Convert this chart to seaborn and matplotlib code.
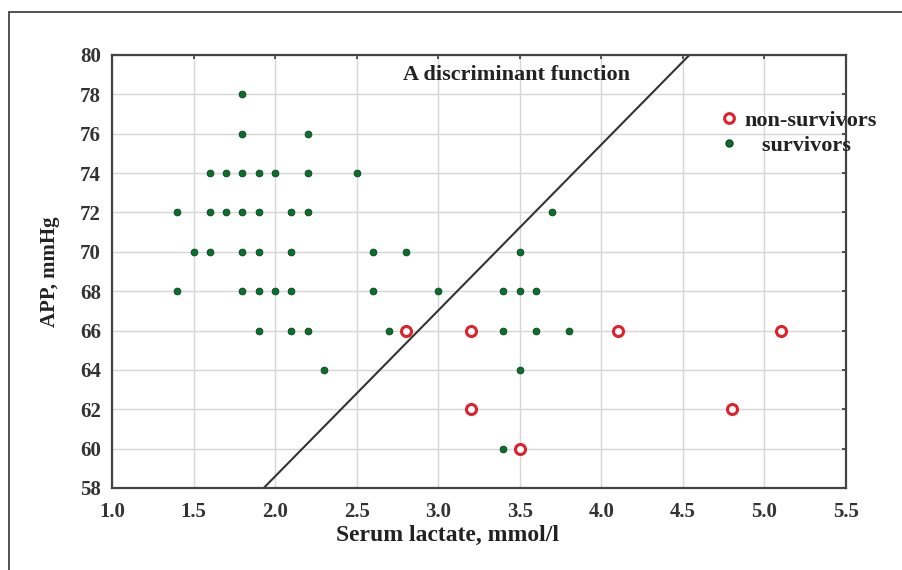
import matplotlib
matplotlib.use("Agg")
import matplotlib.pyplot as plt
import seaborn as sns
import pandas as pd
from matplotlib.patches import Rectangle
from matplotlib.lines import Line2D

# --- data ---
surv_lactate = [1.8,
                1.8, 2.2,
                1.6, 1.7, 1.8, 1.9, 2.0, 2.2, 2.5,
                1.4, 1.6, 1.7, 1.8, 1.9, 2.1, 2.2, 3.7,
                1.5, 1.6, 1.8, 1.9, 2.1, 2.6, 2.8, 3.5,
                1.4, 1.8, 1.9, 2.0, 2.1, 2.6, 3.0, 3.4, 3.5, 3.6,
                1.9, 2.1, 2.2, 2.7, 3.4, 3.6, 3.8,
                2.3, 3.5,
                3.4]
surv_app = [78,
            76, 76,
            74, 74, 74, 74, 74, 74, 74,
            72, 72, 72, 72, 72, 72, 72, 72,
            70, 70, 70, 70, 70, 70, 70, 70,
            68, 68, 68, 68, 68, 68, 68, 68, 68, 68,
            66, 66, 66, 66, 66, 66, 66,
            64, 64,
            60]
nonsurv_lactate = [2.8, 3.2, 4.1, 5.1, 3.2, 4.8, 3.5]
nonsurv_app = [66, 66, 66, 66, 62, 62, 60]
line_x = [1.93, 4.54]
line_y = [58, 80]
x_ticks = [1.0, 1.5, 2.0, 2.5, 3.0, 3.5, 4.0, 4.5, 5.0, 5.5]
y_ticks = list(range(58, 81, 2))

df = pd.DataFrame({
    "lactate": nonsurv_lactate + surv_lactate,
    "app": nonsurv_app + surv_app,
    "group": ["non-survivors"] * len(nonsurv_lactate) + ["survivors"] * len(surv_lactate),
})

sns.set_style("white")
plt.rcParams["font.family"] = ["Liberation Serif", "DejaVu Serif"]

fig = plt.figure(figsize=(9.03, 5.70), dpi=100)
ax = fig.add_axes([112 / 903, 1 - 488 / 570, (846 - 112) / 903, (488 - 55) / 570])

# outer frame
fig.patches.append(Rectangle((9 / 903, -0.1), 1.2, (570 - 12) / 570 + 0.1,
                             transform=fig.transFigure, fill=False,
                             edgecolor="#333333", linewidth=1.2))

surv = df[df.group == "survivors"]
non = df[df.group == "non-survivors"]
sns.scatterplot(data=surv, x="lactate", y="app", ax=ax, marker="o", s=24,
                color="#0b6e2c", edgecolor="#07471c", linewidth=0.6, zorder=3,
                legend=False)
sns.scatterplot(data=non, x="lactate", y="app", ax=ax, marker="o", s=52,
                facecolor="white", edgecolor="#e0202a", linewidth=2.2, zorder=4,
                legend=False)
sns.lineplot(x=line_x, y=line_y, ax=ax, color="#333333", linewidth=1.5, zorder=2)

ax.set_xlim(1.0, 5.5)
ax.set_ylim(58, 80)
ax.set_xticks(x_ticks)
ax.set_yticks(y_ticks)
ax.set_xticklabels([f"{v:.1f}" for v in x_ticks], fontsize=15, fontweight="bold", color="#333333")
ax.set_yticklabels([str(v) for v in y_ticks], fontsize=15, fontweight="bold", color="#333333")
ax.grid(True, color="#d6d6d6", linewidth=1.0)
ax.tick_params(axis="both", which="major", direction="in", length=3, width=1.2,
               colors="#333333", top=True, right=True)
ax.tick_params(axis="y", pad=8)
ax.tick_params(axis="x", pad=10)
for s in ax.spines.values():
    s.set_color("#444444")
    s.set_linewidth(1.6)

ax.set_xlabel("Serum lactate, mmol/l", fontsize=17, fontweight="bold", color="#222222", labelpad=0)
ax.xaxis.set_label_coords((448 - 112) / (846 - 112), -0.085)
ax.set_ylabel("APP, mmHg", fontsize=15, fontweight="bold", color="#222222", labelpad=14)

ax.text(3.48, 79.0, "A discriminant function", fontsize=16, fontweight="bold",
        ha="center", va="center", color="#222222")

# legend
handles = [
    Line2D([], [], marker="o", linestyle="none", markersize=7, markerfacecolor="white",
           markeredgecolor="#e0202a", markeredgewidth=2.2),
    Line2D([], [], marker="o", linestyle="none", markersize=5, markerfacecolor="#0b6e2c",
           markeredgecolor="#07471c"),
]
leg = ax.legend(handles, ["non-survivors", "   survivors"], loc="upper left",
                bbox_to_anchor=(718 / 903, 1 - 110 / 570), bbox_transform=fig.transFigure,
                frameon=False, fontsize=16, handletextpad=0.2, labelspacing=0.2,
                borderaxespad=0, handlelength=1.0, borderpad=0)
for t in leg.get_texts():
    t.set_fontweight("bold")
    t.set_color("#222222")

fig.savefig("out.png", dpi=100)
